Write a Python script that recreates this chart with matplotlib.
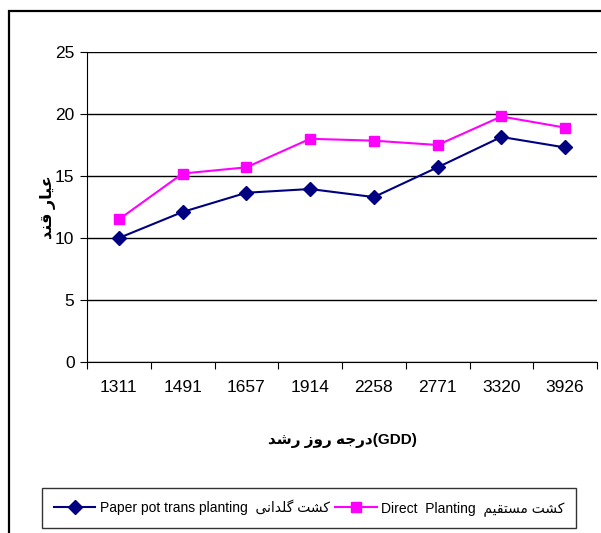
import matplotlib
matplotlib.use("Agg")
import matplotlib.pyplot as plt
from matplotlib.patches import Rectangle

# growth degree days (categories) and sugar content per planting method
gdd = ["1311", "1491", "1657", "1914", "2258", "2771", "3320", "3926"]
paper_pot = [10.0, 12.1, 13.65, 13.95, 13.3, 15.7, 18.15, 17.3]
direct = [11.5, 15.2, 15.7, 18.0, 17.85, 17.5, 19.8, 18.9]

# simple Arabic/Persian shaping: (isolated, final, initial, medial)
FORMS = {
    "ا": ("\uFE8D", "\uFE8E", None, None),
    "د": ("\uFEA9", "\uFEAA", None, None),
    "ر": ("\uFEAD", "\uFEAE", None, None),
    "ز": ("\uFEAF", "\uFEB0", None, None),
    "و": ("\uFEED", "\uFEEE", None, None),
    "ت": ("\uFE95", "\uFE96", "\uFE97", "\uFE98"),
    "ج": ("\uFE9D", "\uFE9E", "\uFE9F", "\uFEA0"),
    "س": ("\uFEB1", "\uFEB2", "\uFEB3", "\uFEB4"),
    "ش": ("\uFEB5", "\uFEB6", "\uFEB7", "\uFEB8"),
    "ع": ("\uFEC9", "\uFECA", "\uFECB", "\uFECC"),
    "ق": ("\uFED5", "\uFED6", "\uFED7", "\uFED8"),
    "ل": ("\uFEDD", "\uFEDE", "\uFEDF", "\uFEE0"),
    "م": ("\uFEE1", "\uFEE2", "\uFEE3", "\uFEE4"),
    "ن": ("\uFEE5", "\uFEE6", "\uFEE7", "\uFEE8"),
    "ه": ("\uFEE9", "\uFEEA", "\uFEEB", "\uFEEC"),
    "ی": ("\uFBFC", "\uFBFD", "\uFBFE", "\uFBFF"),
    "ک": ("\uFB8E", "\uFB8F", "\uFB90", "\uFB91"),
    "گ": ("\uFB92", "\uFB93", "\uFB94", "\uFB95"),
}


def shape(word):
    out = []
    for i, ch in enumerate(word):
        if ch not in FORMS:
            out.append(ch)
            continue
        prev = word[i - 1] if i > 0 else ""
        nxt = word[i + 1] if i + 1 < len(word) else ""
        join_prev = prev in FORMS and FORMS[prev][2] is not None
        join_next = nxt in FORMS and FORMS[ch][2] is not None
        iso, fin, ini, med = FORMS[ch]
        if join_prev and join_next:
            out.append(med)
        elif join_prev:
            out.append(fin)
        elif join_next:
            out.append(ini)
        else:
            out.append(iso)
    return "".join(out)


def rtl(text):
    # shape each word and reverse for visual (left-to-right) drawing
    return " ".join(shape(w)[::-1] for w in text.split(" ")[::-1])


plt.rcParams["font.family"] = ["Liberation Sans", "DejaVu Sans"]

fig = plt.figure(figsize=(6.01, 5.33), dpi=100)
ax = fig.add_axes([87 / 601, 1 - 362 / 533, 510 / 601, 310 / 533])

x = list(range(len(gdd)))
ax.plot(x, paper_pot, color="#000080", lw=1.5, marker="D", ms=7,
        label="Paper pot trans planting  " + rtl("کشت گلدانی"))
ax.plot(x, direct, color="#FF00FF", lw=1.5, marker="s", ms=7,
        label="Direct  Planting  " + rtl("کشت مستقیم"))

ax.set_xlim(-0.5, len(gdd) - 0.5)
ax.set_ylim(0, 25)
ax.set_yticks(range(0, 26, 5))
ax.yaxis.grid(True, color="black", lw=1)
ax.set_axisbelow(True)

ax.set_xticks([i - 0.5 for i in range(len(gdd) + 1)])
ax.set_xticklabels([])
ax.set_xticks(x, minor=True)
ax.set_xticklabels(gdd, minor=True)
ax.tick_params(axis="x", which="major", length=5, direction="out", color="black")
ax.tick_params(axis="x", which="minor", length=0, pad=13, labelsize=12.5)
ax.tick_params(axis="y", length=5, direction="out", labelsize=12.5, pad=4)

for s in ["top", "right"]:
    ax.spines[s].set_visible(False)
ax.spines["left"].set_color("black")
ax.spines["bottom"].set_color("black")

ax.set_xlabel(rtl("درجه روز رشد") + "(GDD)", fontsize=11, fontweight="bold", labelpad=27)
ax.set_ylabel(rtl("عیار قند"), fontsize=11.5, fontweight="bold")
ax.yaxis.set_label_coords(-31 / 510, 0.5)

leg = fig.legend(loc="center", bbox_to_anchor=(309 / 601, 1 - 508 / 533), ncol=2,
                 fontsize=10, frameon=True, fancybox=False, handlelength=3.0,
                 columnspacing=0.4, handletextpad=0.3, borderpad=0.85,
                 borderaxespad=0)
leg.get_frame().set_edgecolor("black")
leg.get_frame().set_linewidth(1)

# outer chart border running off the right and bottom edges
fig.patches.append(Rectangle((9 / 601, -0.05), 1.0, 1 - 11 / 533 + 0.05,
                             transform=fig.transFigure, fill=False,
                             edgecolor="black", lw=1.6, clip_on=False))

fig.savefig("out.png", dpi=100)
